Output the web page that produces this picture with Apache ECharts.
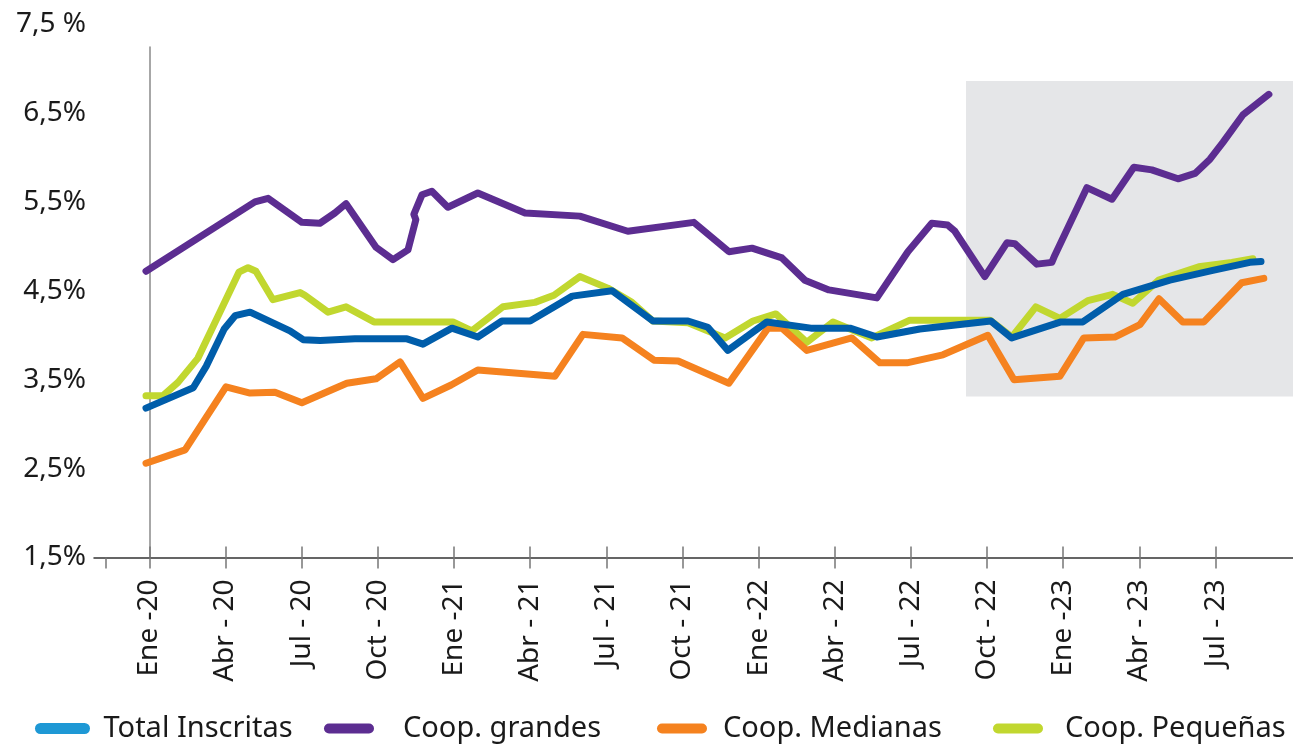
<!DOCTYPE html>
<html>
<head>
<meta charset="utf-8">
<script src="https://cdn.jsdelivr.net/npm/echarts@6/dist/echarts.min.js"></script>
<style>
html,body{margin:0;padding:0;background:#fff;}
#chart{width:1293px;height:747px;}
</style>
</head>
<body>
<div id="chart"></div>
<script>
// x = months since Ene-20 (0 = Ene-20, 3 = Abr-20, ...), y = percentage
const tickLabels = ["Ene -20","Abr - 20","Jul - 20","Oct - 20","Ene -21","Abr - 21","Jul - 21","Oct - 21","Ene -22","Abr - 22","Jul - 22","Oct - 22","Ene -23","Abr - 23","Jul - 23"];
const yLabels = [1.5, 2.5, 3.5, 4.5, 5.5, 6.5];
const yTopLabel = "7,5 %";
const seriesNames = ["Total Inscritas", "Coop. grandes", "Coop. Medianas", "Coop. Pequeñas"];

const totalInscritas = [[-0.13,3.18],[1.73,3.41],[2.24,3.65],[2.95,4.07],[3.38,4.22],[3.97,4.26],[5.54,4.05],[6.06,3.95],[6.73,3.94],[8.1,3.96],[10.15,3.96],[10.78,3.90],[11.92,4.08],[12.94,3.98],[13.89,4.16],[15.0,4.16],[16.66,4.44],[18.23,4.50],[19.84,4.16],[21.22,4.16],[22.0,4.09],[22.79,3.83],[24.33,4.15],[26.06,4.08],[27.6,4.08],[28.66,3.98],[30.35,4.07],[33.15,4.16],[33.97,3.97],[35.91,4.15],[36.77,4.15],[38.35,4.46],[40.2,4.62],[41.89,4.73],[43.35,4.82],[43.79,4.83]];

const coopGrandes = [[-0.13,4.72],[4.16,5.50],[4.68,5.54],[6.01,5.27],[6.72,5.26],[7.31,5.375],[7.75,5.48],[8.93,4.99],[9.6,4.85],[10.19,4.96],[10.5,5.30],[10.42,5.36],[10.74,5.58],[11.13,5.62],[11.76,5.44],[12.94,5.60],[14.8,5.375],[16.96,5.34],[18.85,5.17],[21.45,5.27],[22.83,4.94],[23.74,4.98],[24.92,4.87],[25.82,4.62],[26.77,4.51],[28.66,4.42],[29.88,4.94],[30.82,5.26],[31.45,5.24],[31.73,5.17],[32.91,4.66],[33.78,5.04],[34.09,5.03],[34.96,4.80],[35.55,4.82],[35.67,4.90],[36.93,5.66],[37.92,5.53],[38.78,5.89],[39.49,5.86],[40.52,5.76],[41.19,5.82],[41.78,5.98],[42.29,6.17],[43.08,6.48],[44.1,6.71]];

const coopMedianas = [[-0.13,2.56],[1.41,2.71],[3.02,3.42],[3.97,3.35],[4.95,3.36],[6.01,3.24],[7.78,3.46],[8.93,3.51],[9.88,3.70],[10.78,3.29],[11.89,3.44],[12.94,3.61],[15.98,3.54],[17.08,4.01],[18.62,3.97],[19.88,3.72],[20.83,3.71],[22.83,3.46],[24.37,4.08],[24.92,4.08],[25.9,3.83],[27.67,3.97],[28.78,3.69],[29.84,3.69],[31.26,3.78],[33.03,4.00],[34.06,3.50],[35.87,3.54],[36.81,3.97],[38.03,3.98],[39.02,4.12],[39.77,4.41],[40.71,4.15],[41.54,4.15],[43.03,4.59],[43.9,4.64]];

const coopPequenas = [[-0.13,3.32],[0.54,3.32],[1.13,3.47],[1.91,3.74],[2.7,4.21],[3.53,4.71],[3.89,4.76],[4.2,4.72],[4.87,4.40],[5.94,4.48],[6.13,4.45],[7.04,4.26],[7.75,4.32],[8.85,4.15],[11.96,4.15],[12.71,4.05],[13.93,4.32],[15.19,4.37],[15.94,4.45],[16.96,4.66],[18.06,4.53],[19.01,4.37],[19.84,4.16],[21.22,4.14],[22.68,3.97],[23.78,4.16],[24.68,4.24],[25.9,3.92],[26.93,4.15],[28.46,3.97],[29.96,4.17],[33.11,4.17],[33.98,3.98],[34.92,4.32],[35.87,4.19],[36.97,4.39],[37.95,4.46],[38.74,4.36],[39.76,4.62],[41.34,4.77],[42.64,4.82],[43.47,4.86]];

// shaded period [xStart, yBottom, yTop]
const shadedPeriod = [32.17, 3.31, 6.86];

const X_MIN = -2.178, X_MAX = 45.05, Y_AXIS_AT = -1.705;
const tickVals = tickLabels.map((_, i) => i * 3);
const FONT = 'Noto Sans';
const colors = {
  total: '#005DAA', totalLegend: '#1E98D5', grandes: '#5C2D91', medianas: '#F5821F', pequenas: '#C1D72F'
};
const pill = 'path://M5,0 H45 A5,5 0 0 1 45,10 H5 A5,5 0 0 1 5,0 Z';

function legendAt(left, name, color, w, gap) {
  return {
    left: left, top: 714, padding: 0, orient: 'horizontal',
    icon: pill, itemWidth: w, itemHeight: 11, selectedMode: false,
    textStyle: { fontFamily: FONT, fontSize: 29, color: '#1a1a1a', padding: [0, 0, 0, gap] },
    data: [{ name: name, itemStyle: { color: color } }]
  };
}

const chart = echarts.init(document.getElementById('chart'), null, { renderer: 'canvas' });
const lineBase = (name, data, color, z) => ({
  name, type: 'line', data, showSymbol: false, symbol: 'none', z,
  lineStyle: { color, width: 7, cap: 'round', join: 'round' },
  itemStyle: { color }, animation: false
});

chart.setOption({
  animation: false,
  title: {
    text: yTopLabel, left: 16, top: 10, padding: 0,
    textStyle: { fontFamily: FONT, fontSize: 28, fontWeight: 'normal', color: '#1a1a1a' }
  },
  grid: { left: 94, right: 0, top: 47, bottom: 747 - 557.5, containLabel: false },
  legend: [
    legendAt(35, seriesNames[0], colors.totalLegend, 60, 6),
    legendAt(324, seriesNames[1], colors.grandes, 50, 24),
    legendAt(657, seriesNames[2], colors.medianas, 50, 11),
    legendAt(993, seriesNames[3], colors.pequenas, 50, 17)
  ],
  xAxis: [{
    type: 'value', min: X_MIN, max: X_MAX, position: 'bottom',
    axisLine: { show: true, lineStyle: { color: '#333', width: 1.5 } },
    axisTick: { show: true, length: 11, lineStyle: { color: '#777', width: 1.5 }, customValues: [Y_AXIS_AT].concat(tickVals) },
    axisLabel: {
      show: true, customValues: tickVals, rotate: 90, margin: 22,
      fontFamily: FONT, fontSize: 28, color: '#1a1a1a',
      formatter: v => tickLabels[Math.round(v / 3)]
    },
    splitLine: { show: false }
  }, {
    type: 'value', min: X_MIN, max: X_MAX, position: 'bottom',
    axisLine: { show: false },
    axisTick: { show: true, inside: true, length: 11, lineStyle: { color: '#777', width: 1.5 }, customValues: tickVals },
    axisLabel: { show: false },
    splitLine: { show: false }
  }],
  yAxis: {
    type: 'value', min: 1.5, max: 1.5 + (557.5 - 47) / 88.9, offset: -12,
    axisLine: { show: true, lineStyle: { color: '#8a8a8a', width: 1.5 } },
    axisTick: { show: false },
    axisLabel: {
      customValues: yLabels, margin: 20, fontFamily: FONT, fontSize: 28, color: '#1a1a1a',
      formatter: v => v.toFixed(1).replace('.', ',') + '%'
    },
    splitLine: { show: false }
  },
  series: [
    {
      name: 'shade', type: 'line', data: [], z: 1, silent: true,
      markArea: {
        silent: true, itemStyle: { color: '#E5E6E8' },
        data: [[{ xAxis: shadedPeriod[0], yAxis: shadedPeriod[1] }, { xAxis: X_MAX, yAxis: shadedPeriod[2] }]]
      }
    },
    lineBase(seriesNames[3], coopPequenas, colors.pequenas, 2),
    lineBase(seriesNames[2], coopMedianas, colors.medianas, 3),
    lineBase(seriesNames[1], coopGrandes, colors.grandes, 4),
    lineBase(seriesNames[0], totalInscritas, colors.total, 5)
  ]
});
</script>
</body>
</html>
